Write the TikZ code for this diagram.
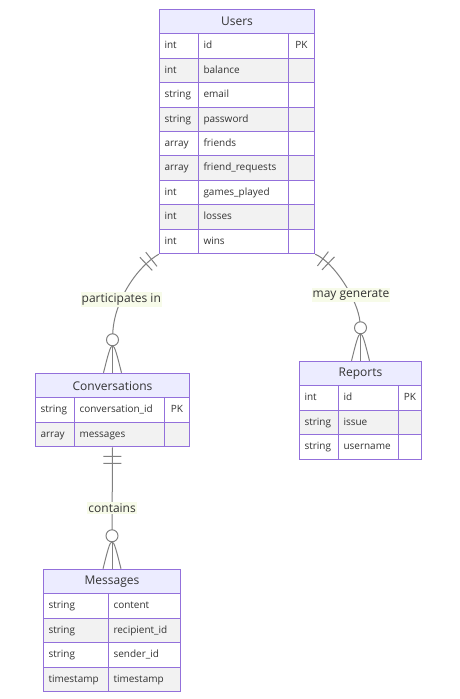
\documentclass[tikz,border=0pt]{standalone}
\usepackage{fontspec}
\setmainfont{Open Sans}
\usetikzlibrary{positioning, fit, calc, decorations.markings}

\definecolor{erborder}{HTML}{9370DB}
\definecolor{erhead}{HTML}{ECECFF}
\definecolor{rowgray}{HTML}{F2F2F2}
\definecolor{txtgray}{HTML}{333333}
\definecolor{relgray}{HTML}{808080}
\definecolor{lblbg}{HTML}{F7FBE9}

\begin{document}
\begin{tikzpicture}[
    x=1pt, y=-1pt,
    enthead/.style={rectangle, draw=erborder, fill=erhead, line width=1pt, anchor=north west, minimum height=24.4pt, inner sep=0pt, text=txtgray, font=\fontsize{12}{14}\selectfont},
    attrcell/.style={rectangle, draw=erborder, line width=1pt, anchor=north west, minimum height=24.4pt, inner xsep=5pt, inner ysep=0pt, text width=#1, align=left, text height=8pt, text depth=2.5pt, text=txtgray, font=\fontsize{10}{12}\selectfont},
    keycell/.style={attrcell=#1, align=center},
    rel/.style={draw=relgray, line width=1pt},
    lbl/.style={fill=lblbg, text=txtgray, inner xsep=1pt, inner ysep=1.5pt, font=\fontsize{12}{14}\selectfont},
    zcirc/.style={circle, draw=relgray, fill=white, line width=1pt, minimum size=12pt, inner sep=0pt, outer sep=0pt},
    onebar/.style={postaction={decorate, decoration={markings,
        mark=at position 9pt with {\draw[relgray, line width=1pt] (0,-9pt) -- (0,9pt);},
        mark=at position 16pt with {\draw[relgray, line width=1pt] (0,-9pt) -- (0,9pt);}}}}
]

\path[use as bounding box, fill=white] (0,0) rectangle (459,699);

% Users
\node[enthead, minimum width=155pt] (users-h) at (159,9) {Users};
\foreach \t/\n/\k [count=\i, evaluate={\i as \f using int(100*mod(\i,2))}] in {int/id/PK, int/balance/{}, string/email/{}, string/password/{}, array/friends/{}, array/friend\_requests/{}, int/games\_played/{}, int/losses/{}, int/wins/{}} {
    \node[attrcell=29pt, fill=white!\f!rowgray] (users-t\i) at (159,{9+24.4*\i}) {\t};
    \node[attrcell=80pt, fill=white!\f!rowgray] (users-n\i) at (198,{9+24.4*\i}) {\n};
    \node[keycell=16pt, fill=white!\f!rowgray] (users-k\i) at (288,{9+24.4*\i}) {\k};
}
\node[fit=(users-h)(users-k9), inner sep=0pt] (users) {};

% Conversations
\node[enthead, minimum width=154pt] (convs-h) at (35,373) {Conversations};
\foreach \t/\n/\k [count=\i, evaluate={\i as \f using int(100*mod(\i,2))}] in {string/conversation\_id/PK, array/messages/{}} {
    \node[attrcell=29pt, fill=white!\f!rowgray] (convs-t\i) at (35,{373+24.4*\i}) {\t};
    \node[attrcell=80pt, fill=white!\f!rowgray] (convs-n\i) at (74,{373+24.4*\i}) {\n};
    \node[keycell=15pt, fill=white!\f!rowgray] (convs-k\i) at (164,{373+24.4*\i}) {\k};
}
\node[fit=(convs-h)(convs-k2), inner sep=0pt] (convs) {};

% Reports
\node[enthead, minimum width=122pt] (reports-h) at (299,361) {Reports};
\foreach \t/\n/\k [count=\i, evaluate={\i as \f using int(100*mod(\i,2))}] in {int/id/PK, string/issue/{}, string/username/{}} {
    \node[attrcell=29pt, fill=white!\f!rowgray] (reports-t\i) at (299,{361+24.4*\i}) {\t};
    \node[attrcell=50pt, fill=white!\f!rowgray] (reports-n\i) at (338,{361+24.4*\i}) {\n};
    \node[keycell=13pt, fill=white!\f!rowgray] (reports-k\i) at (398,{361+24.4*\i}) {\k};
}
\node[fit=(reports-h)(reports-k3), inner sep=0pt] (reports) {};

% Messages
\node[enthead, minimum width=137pt] (msgs-h) at (43,569) {Messages};
\foreach \t/\n [count=\i, evaluate={\i as \f using int(100*mod(\i,2))}] in {string/content, string/recipient\_id, string/sender\_id, timestamp/timestamp} {
    \node[attrcell=55pt, fill=white!\f!rowgray] (msgs-t\i) at (43,{569+24.4*\i}) {\t};
    \node[attrcell=62pt, fill=white!\f!rowgray] (msgs-n\i) at (108,{569+24.4*\i}) {\n};
}
\node[fit=(msgs-h)(msgs-n4), inner sep=0pt] (msgs) {};

% zero-or-more ends
\node[zcirc, above=27pt of convs.north] (pcirc) {};
\node[zcirc, above=27pt of reports.north] (mgcirc) {};
\node[zcirc, above=27pt of msgs.north] (ccirc) {};
\foreach \e/\c in {convs/pcirc, reports/mgcirc, msgs/ccirc} {
    \draw[rel] (\c) -- (\e.north);
    \draw[rel] ($(\e.north)+(-9,0)$) .. controls ($(\e.north)+(0,-36)$) .. ($(\e.north)+(9,0)$);
}

% Relationships
\draw[rel, onebar] (users.south west) .. controls (138,266) and (114,300) .. node[lbl, pos=0.65] {participates in} (pcirc);
\draw[rel, onebar] (users.south east) .. controls (334,262) and (358,300) .. node[lbl, pos=0.65] {may generate} (mgcirc);
\draw[rel, onebar] (convs.south) -- node[lbl, pos=0.74] {contains} (ccirc);

\end{tikzpicture}
\end{document}
